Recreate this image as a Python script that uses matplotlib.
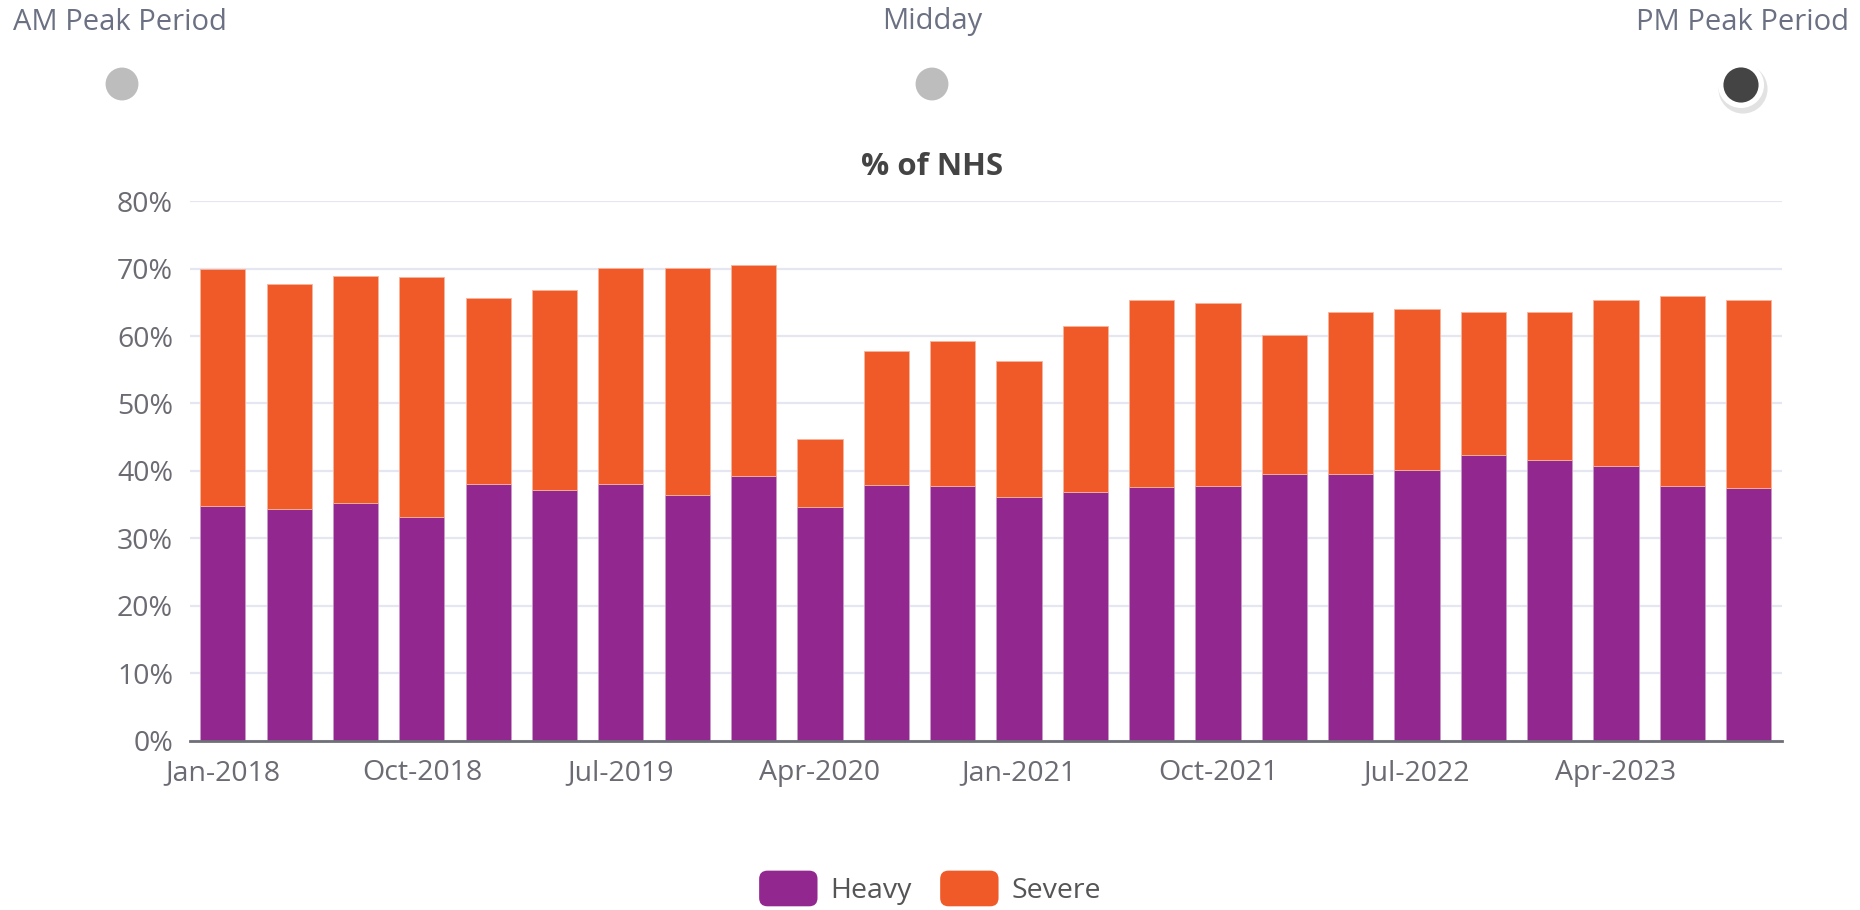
import matplotlib.pyplot as plt
import numpy as np
from matplotlib.patches import FancyBboxPatch
from matplotlib.legend_handler import HandlerPatch

plt.rcParams['font.family'] = ['Open Sans', 'DejaVu Sans']

# Data (quarterly, PM Peak Period)
quarters = ["Jan-2018", "Apr-2018", "Jul-2018", "Oct-2018",
            "Jan-2019", "Apr-2019", "Jul-2019", "Oct-2019",
            "Jan-2020", "Apr-2020", "Jul-2020", "Oct-2020",
            "Jan-2021", "Apr-2021", "Jul-2021", "Oct-2021",
            "Jan-2022", "Apr-2022", "Jul-2022", "Oct-2022",
            "Jan-2023", "Apr-2023", "Jul-2023", "Oct-2023"]
heavy = [34.8, 34.4, 35.2, 33.1, 38.1, 37.2, 38.1, 36.4,
         39.3, 34.6, 37.9, 37.7, 36.2, 36.9, 37.6, 37.8,
         39.6, 39.6, 40.1, 42.3, 41.6, 40.8, 37.7, 37.5]
total = [70.0, 67.7, 68.9, 68.8, 65.6, 66.8, 70.1, 70.1,
         70.5, 44.7, 57.8, 59.3, 56.3, 61.5, 65.4, 64.9,
         60.2, 63.5, 64.0, 63.5, 63.5, 65.3, 66.0, 65.4]
severe = [t - h for t, h in zip(total, heavy)]

series_names = ["Heavy", "Severe"]
colors = ["#92278f", "#f05a28"]
periods = ["AM Peak Period", "Midday", "PM Peak Period"]
y_ticks = [0, 10, 20, 30, 40, 50, 60, 70, 80]

fig = plt.figure(figsize=(18.6, 9.1), dpi=100)
ax = fig.add_axes([0.102, 0.186, 0.856, 0.593])

x = np.arange(len(quarters))
b1 = ax.bar(x, heavy, width=0.68, color=colors[0], edgecolor="#c99ac7", linewidth=0.6, zorder=3)
b2 = ax.bar(x, severe, width=0.68, bottom=heavy, color=colors[1], edgecolor="#f8b49c", linewidth=0.6, zorder=3)

ax.set_xlim(-0.5, len(quarters) - 0.5)
ax.set_ylim(0, 80)
ax.set_yticks(y_ticks)
ax.set_yticklabels([f"{v}%" for v in y_ticks])
ax.set_xticks(x[::3])
ax.set_xticklabels(quarters[::3])
ax.tick_params(axis="both", length=0, labelsize=20.5, colors="#6b6b73")
ax.tick_params(axis="y", pad=12)
ax.tick_params(axis="x", pad=13)
ax.grid(axis="y", color="#e4e7f1", linewidth=1.6, zorder=0)
for s in ["top", "right", "left"]:
    ax.spines[s].set_visible(False)
ax.spines["bottom"].set_color("#6f6f78")
ax.spines["bottom"].set_linewidth(2)
ax.spines["bottom"].set_zorder(4)

fig.text(0.501, 0.817, "% of NHS", fontsize=22.5, fontweight="bold", color="#444444",
         ha="center", va="center")


# rounded legend swatches
class RoundHandler(HandlerPatch):
    def create_artists(self, legend, orig_handle, xdescent, ydescent,
                       width, height, fontsize, trans):
        p = FancyBboxPatch((-xdescent, -ydescent - 3), width, height + 6,
                           boxstyle="round,pad=0,rounding_size=6",
                           fc=orig_handle.get_facecolor(), ec="none", transform=trans)
        return [p]


leg = fig.legend([b1[0], b2[0]], series_names, loc="center", bbox_to_anchor=(0.5, 0.022),
                 ncol=2, frameon=False, fontsize=20.5, handlelength=2.05, handleheight=1.1,
                 columnspacing=1.0, handletextpad=0.45,
                 handler_map={b1[0]: RoundHandler(), b2[0]: RoundHandler()})
for t in leg.get_texts():
    t.set_color("#555555")

# period selector on top
top = fig.add_axes([0, 0, 1, 1], zorder=-1)
top.set_xlim(0, 1860)
top.set_ylim(910, 0)
top.axis("off")
top.text(13, 22, periods[0], fontsize=21, color="#6b7183", ha="left", va="center")
top.text(932, 22, periods[1], fontsize=21, color="#6b7183", ha="center", va="center")
top.text(1849, 22, periods[2], fontsize=21, color="#6b7183", ha="right", va="center")
top.scatter([122, 932], [84, 84], s=560, color="#bdbdbd", edgecolor="none")
top.scatter([1743], [89], s=1250, color="#cfcfcf", alpha=0.6, edgecolor="none")
top.scatter([1741], [85], s=1100, color="white", edgecolor="none")
top.scatter([1741], [85], s=640, color="#444444", edgecolor="none")

fig.savefig("out.png", dpi=100)
